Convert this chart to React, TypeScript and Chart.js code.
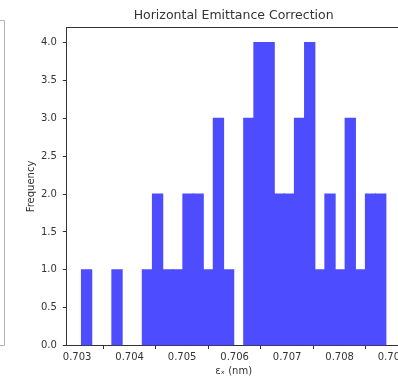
import React, { useEffect, useRef } from "react";
import { Chart, registerables } from "chart.js";

Chart.register(...registerables);

// Histogram of 50 samples, 30 equal bins between the sample min and max
const binCounts = [1, 0, 0, 1, 0, 0, 1, 2, 1, 1, 2, 2, 1, 3, 1, 0, 3, 4, 4, 2, 2, 3, 4, 1, 2, 1, 3, 1, 2, 2];
const sampleMin = 0.703084;
const sampleMax = 0.70888;
const xTickValues = [0.703, 0.704, 0.705, 0.706, 0.707, 0.708, 0.709];
const yTickValues = [0, 0.5, 1, 1.5, 2, 2.5, 3, 3.5, 4];
const xLimits = [0.702794, 0.70917];
const yLimits = [0, 4.2];
const titleText = "Horizontal Emittance Correction";
const xLabel = "εₓ (nm)";
const yLabel = "Frequency";

const FONT = "'DejaVu Sans', sans-serif";
const CANVAS_W = 420;
const CANVAS_H = 378;

const framePlugin = {
  id: "frame",
  afterDraw(chart: any) {
    const { ctx, chartArea } = chart;
    ctx.save();
    ctx.strokeStyle = "#333";
    ctx.lineWidth = 1;
    ctx.beginPath();
    ctx.moveTo(chartArea.left, chartArea.top);
    ctx.lineTo(chartArea.right, chartArea.top);
    ctx.lineTo(chartArea.right, chartArea.bottom);
    ctx.stroke();
    // edge of the neighbouring panel on the left
    ctx.strokeStyle = "#b4b4b4";
    ctx.beginPath();
    ctx.moveTo(0, 20.5);
    ctx.lineTo(4.5, 20.5);
    ctx.lineTo(4.5, 345.5);
    ctx.lineTo(0, 345.5);
    ctx.stroke();
    ctx.restore();
  },
};

export default function App() {
  const canvasRef = useRef<HTMLCanvasElement | null>(null);

  useEffect(() => {
    const canvas = canvasRef.current;
    if (!canvas) return;
    const binWidth = (sampleMax - sampleMin) / binCounts.length;
    const points = binCounts.map((c, i) => ({ x: sampleMin + (i + 0.5) * binWidth, y: c }));

    const chart = new Chart(canvas, {
      type: "bar",
      data: {
        datasets: [
          {
            data: points as any,
            backgroundColor: "#4d4dff",
            borderWidth: 0,
            barPercentage: 1,
            categoryPercentage: 1,
            inflateAmount: (ctx: any) => (ctx.raw && ctx.raw.y > 0 ? 0.6 : 0),
          } as any,
        ],
      },
      options: {
        animation: false,
        responsive: false,
        devicePixelRatio: 1,
        layout: { padding: { left: 0, right: CANVAS_W - 401, top: 0, bottom: 0 } },
        plugins: {
          legend: { display: false },
          tooltip: { enabled: false },
          title: {
            display: true,
            text: titleText,
            fullSize: false,
            color: "#333",
            font: { family: FONT, size: 12.5, weight: "normal" },
            padding: { top: 8, bottom: 4.5 },
          },
        },
        scales: {
          x: {
            type: "linear",
            min: xLimits[0],
            max: xLimits[1],
            offset: false,
            afterBuildTicks: (scale: any) => {
              scale.ticks = xTickValues.map((v) => ({ value: v }));
            },
            afterFit: (scale: any) => {
              scale.height = 32.5;
            },
            ticks: {
              autoSkip: false,
              maxRotation: 0,
              minRotation: 0,
              padding: 2.5,
              color: "#333",
              font: { family: FONT, size: 10 },
              callback: (v: any) => Number(v).toFixed(3),
            },
            grid: {
              display: true,
              drawOnChartArea: false,
              drawTicks: true,
              tickLength: 3.5,
              color: "#333",
              lineWidth: 1,
            },
            border: { display: true, color: "#333", width: 1 },
            title: {
              display: true,
              text: xLabel,
              color: "#333",
              font: { family: FONT, size: 10 },
              padding: { top: 0, bottom: 0.5 },
            },
          },
          y: {
            type: "linear",
            min: yLimits[0],
            max: yLimits[1],
            afterBuildTicks: (scale: any) => {
              scale.ticks = yTickValues.map((v) => ({ value: v }));
            },
            afterFit: (scale: any) => {
              scale.width = 66.3;
            },
            ticks: {
              autoSkip: false,
              padding: 6,
              color: "#333",
              font: { family: FONT, size: 10 },
              callback: (v: any) => Number(v).toFixed(1),
            },
            grid: {
              display: true,
              drawOnChartArea: false,
              drawTicks: true,
              tickLength: 3.5,
              color: "#333",
              lineWidth: 1,
            },
            border: { display: true, color: "#333", width: 1 },
            title: {
              display: true,
              text: yLabel,
              color: "#333",
              font: { family: FONT, size: 10 },
              padding: { top: 25, bottom: 0 },
            },
          },
        },
      },
      plugins: [framePlugin],
    });

    return () => {
      chart.destroy();
    };
  }, []);

  return (
    <div
      style={{
        position: "absolute",
        left: 0,
        top: 0,
        width: 398,
        height: 378,
        overflow: "hidden",
        background: "#fff",
      }}
    >
      <canvas
        ref={canvasRef}
        width={CANVAS_W}
        height={CANVAS_H}
        style={{ display: "block", width: CANVAS_W, height: CANVAS_H }}
      />
    </div>
  );
}
